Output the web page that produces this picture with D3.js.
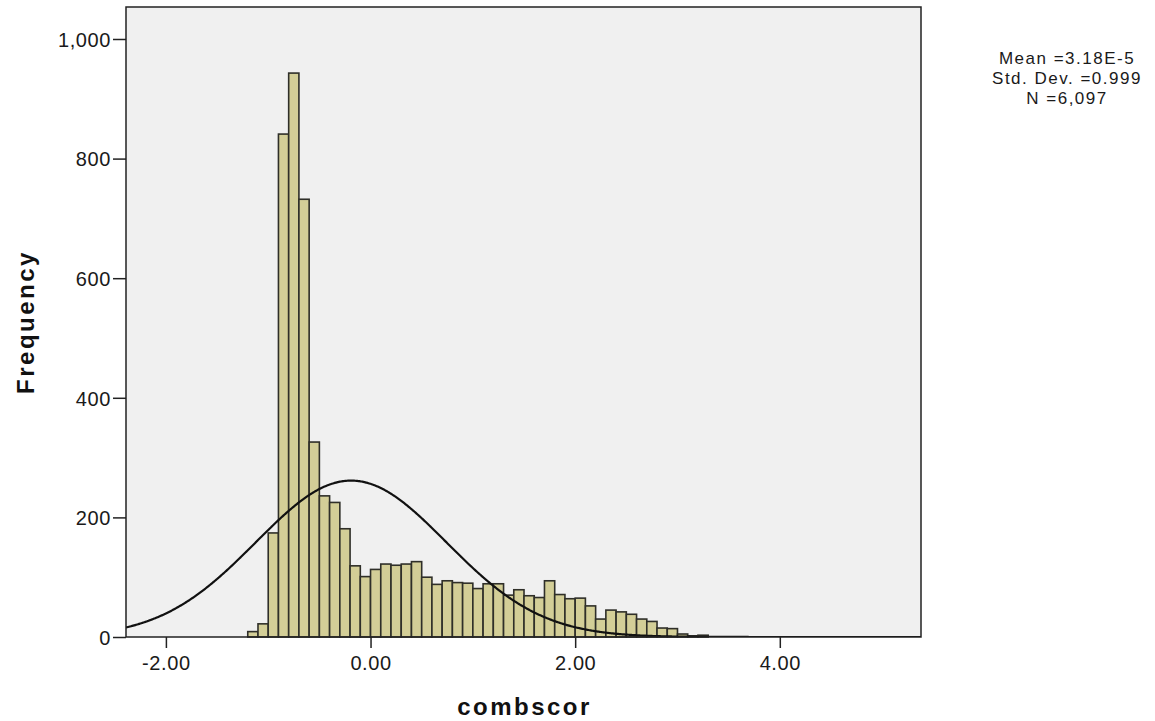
<!DOCTYPE html>
<html>
<head>
<meta charset="utf-8">
<script src="https://cdn.jsdelivr.net/npm/d3@7"></script>
<style>
  html, body { margin: 0; padding: 0; background: #fff; }
  svg { display: block; font-family: "Liberation Sans", Arial, sans-serif; }
</style>
</head>
<body>
<div id="chart"></div>
<script>
// histogram of combscor, bins of 0.1 (lower edges + frequencies)
const binLow = [
  -1.2, -1.1, -1.0, -0.9, -0.8, -0.7, -0.6, -0.5, -0.4, -0.3, -0.2, -0.1,
  0.0, 0.1, 0.2, 0.3, 0.4, 0.5, 0.6, 0.7, 0.8, 0.9,
  1.0, 1.1, 1.2, 1.3, 1.4, 1.5, 1.6, 1.7, 1.8, 1.9,
  2.0, 2.1, 2.2, 2.3, 2.4, 2.5, 2.6, 2.7, 2.8, 2.9,
  3.0, 3.1, 3.2
];
const counts = [
  9, 22, 174, 841, 943, 732, 326, 236, 225, 181, 119, 101,
  113, 122, 120, 122, 126, 100, 88, 94, 91, 90,
  81, 89, 89, 70, 79, 69, 66, 94, 71, 64,
  65, 52, 30, 45, 42, 38, 30, 26, 15, 14,
  5, 2, 3
];
const binWidth = 0.1;

const xTicks = [-2, 0, 2, 4];
const yTicks = [0, 200, 400, 600, 800, 1000];

// summary box (as printed) and the normal curve as drawn
const statLines = ["Mean =3.18E-5", "Std. Dev. =0.999", "N =6,097"];
const nTotal = 6097;
const curveMean = -0.19;
const curveSd = 0.93;

const W = 1155, H = 721;
const plot = { left: 126, right: 921, top: 7, bottom: 637 };

const svg = d3.select("#chart").append("svg")
  .attr("width", W).attr("height", H)
  .attr("viewBox", `0 0 ${W} ${H}`);

const x = d3.scaleLinear().domain([-2.39, 5.38]).range([plot.left, plot.right]);
const y = d3.scaleLinear().domain([0, 1053.5]).range([plot.bottom, plot.top]);

// plot background
svg.append("rect")
  .attr("x", plot.left).attr("y", plot.top)
  .attr("width", plot.right - plot.left).attr("height", plot.bottom - plot.top)
  .attr("fill", "#f0f0f0");

svg.append("clipPath").attr("id", "clip")
  .append("rect")
  .attr("x", plot.left).attr("y", plot.top)
  .attr("width", plot.right - plot.left).attr("height", plot.bottom - plot.top);

const bins = binLow.map((lo, i) => ({ lo, hi: lo + binWidth, n: counts[i] }));

svg.append("g")
  .selectAll("rect")
  .data(bins)
  .join("rect")
  .attr("x", (d) => x(d.lo))
  .attr("y", (d) => y(d.n))
  .attr("width", (d) => x(d.hi) - x(d.lo))
  .attr("height", (d) => y(0) - y(d.n))
  .attr("fill", "#d3ce97")
  .attr("stroke", "#2f2f29")
  .attr("stroke-width", 1.6);

// fitted normal curve, scaled to counts per bin
const pdf = (v) => Math.exp(-0.5 * ((v - curveMean) / curveSd) ** 2) / (curveSd * Math.sqrt(2 * Math.PI));
const xs = d3.range(x.domain()[0], x.domain()[1] + 0.01, 0.01);
svg.append("path")
  .datum(xs)
  .attr("clip-path", "url(#clip)")
  .attr("fill", "none")
  .attr("stroke", "#111")
  .attr("stroke-width", 2.2)
  .attr("d", d3.line().x((v) => x(v)).y((v) => y(nTotal * binWidth * pdf(v))).curve(d3.curveBasis));

// frame
svg.append("rect")
  .attr("x", plot.left).attr("y", plot.top)
  .attr("width", plot.right - plot.left).attr("height", plot.bottom - plot.top)
  .attr("fill", "none")
  .attr("stroke", "#222")
  .attr("stroke-width", 1.5);

// axes
const yAxis = svg.append("g")
  .attr("transform", `translate(${plot.left},0)`)
  .call(d3.axisLeft(y).tickValues(yTicks).tickFormat(d3.format(",")).tickSize(13).tickPadding(2));
const xAxis = svg.append("g")
  .attr("transform", `translate(0,${plot.bottom})`)
  .call(d3.axisBottom(x).tickValues(xTicks).tickFormat((v) => v.toFixed(2)).tickSize(11).tickPadding(8));

for (const ax of [yAxis, xAxis]) {
  ax.select(".domain").remove();
  ax.selectAll("line").attr("stroke", "#222").attr("stroke-width", 1.5);
  ax.selectAll("text")
    .attr("fill", "#1a1a1a")
    .style("font-size", "20px")
    .style("letter-spacing", "0.6px")
    .style("font-family", '"Liberation Sans", Arial, sans-serif');
}
yAxis.selectAll("text").attr("dy", "0.36em");

// axis titles
svg.append("text")
  .attr("x", (plot.left + plot.right) / 2 + 1)
  .attr("y", 715)
  .attr("text-anchor", "middle")
  .style("font-size", "24px")
  .style("font-weight", "bold")
  .style("letter-spacing", "2.5px")
  .attr("fill", "#111")
  .text("combscor");

svg.append("text")
  .attr("transform", `translate(34,${(plot.top + plot.bottom) / 2}) rotate(-90)`)
  .attr("text-anchor", "middle")
  .style("font-size", "24px")
  .style("font-weight", "bold")
  .style("letter-spacing", "2.5px")
  .attr("fill", "#111")
  .text("Frequency");

// summary text
svg.append("g")
  .selectAll("text")
  .data(statLines)
  .join("text")
  .attr("x", 1067)
  .attr("y", (d, i) => 64 + i * 20)
  .attr("text-anchor", "middle")
  .style("font-size", "17px")
  .style("letter-spacing", "1.5px")
  .attr("fill", "#1a1a1a")
  .text((d) => d);
</script>
</body>
</html>
